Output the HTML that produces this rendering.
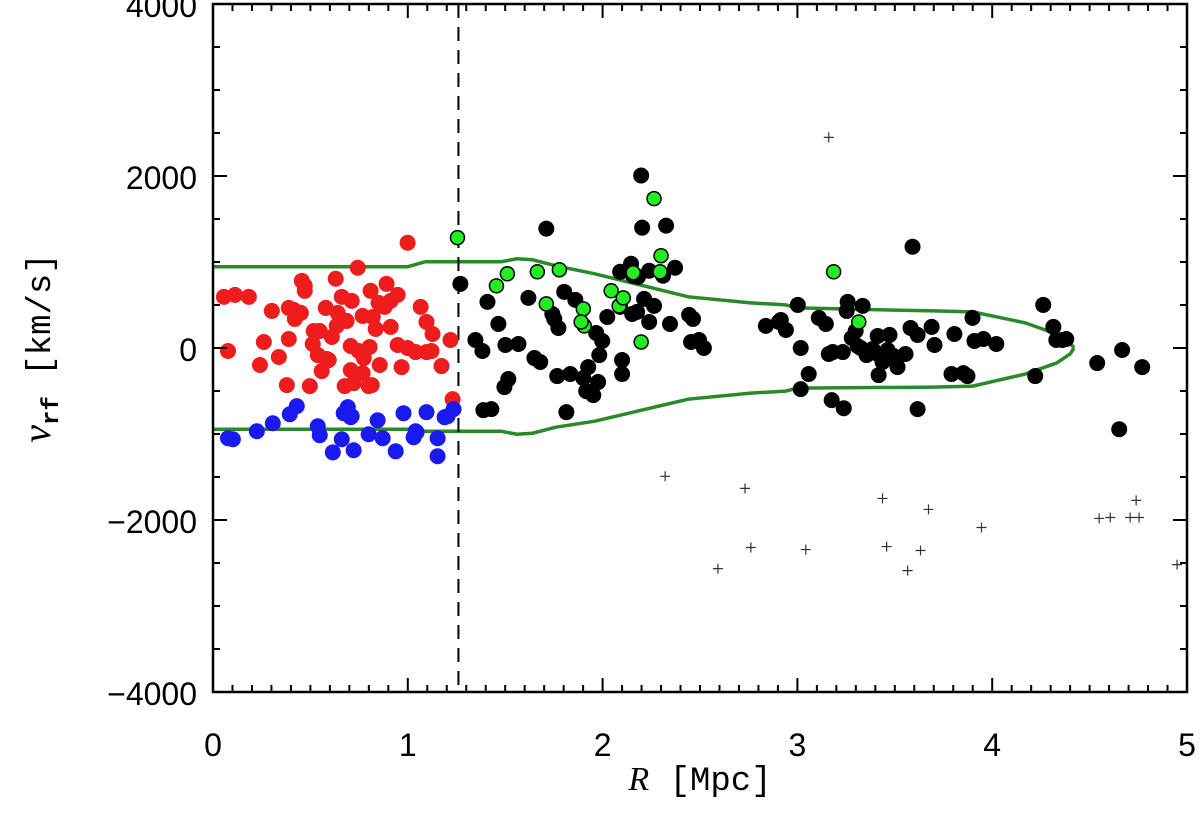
<!DOCTYPE html>
<html><head><meta charset="utf-8"><style>
html,body{margin:0;padding:0;background:#fff;}
svg{display:block;font-family:"Liberation Sans",sans-serif;}
</style></head><body>
<svg id="chart" width="1200" height="814" viewBox="0 0 1200 814"></svg>
<script>
const xTicks=[0,1,2,3,4,5];
const yTicks=[-4000,-2000,0,2000,4000];
const redR=[.056,.113,.184,.077,.302,.261,.338,.241,.389,.420,.389,.379,.415,.456,.471,.471,.512,.548,.579,.538,.558,.594,.610,.640,.635,.630,.661,.686,.707,.707,.722,.748,.768,.774,.820,.799,.835,.856,.809,.881,.891,.912,.948,.912,.948,.999,.999,.968,1.066,1.040,1.096,1.096,1.127,1.122,1.173,1.219,1.230,.743,.768,.676,.584,.517,.497,.451,.804,.815,.850,.712];
const redV=[595,618,595,-35,431,70,-105,-198,466,338,105,-431,443,781,723,665,47,198,466,-82,-268,-140,128,408,257,805,595,315,23,-257,-408,-35,-292,-117,361,-443,222,-198,665,478,746,245,35,548,618,1224,0,-222,478,-47,-47,303,163,-35,-210,93,-595,933,373,-443,-128,198,-443,408,12,-431,525,548];
const blueR=[.102,.077,.225,.307,.394,.430,.538,.548,.661,.671,.692,.707,.712,.799,.845,.871,.938,.978,1.030,1.040,1.045,1.096,1.153,1.153,1.189,1.204,1.235,.615,.722];
const blueV=[-1061,-1049,-968,-875,-770,-676,-910,-1014,-1061,-758,-688,-805,-793,-1003,-840,-1049,-1201,-758,-1038,-968,-980,-746,-1049,-1259,-805,-793,-711,-1213,-1189];
const blackR=[1.270,1.347,1.383,1.388,1.429,1.409,1.465,1.496,1.516,1.501,1.568,1.619,1.650,1.711,1.680,1.742,1.752,1.773,1.803,1.767,1.814,1.834,1.860,1.901,1.926,1.916,1.952,1.967,1.977,1.983,1.998,2.024,2.090,2.090,2.100,2.100,2.146,2.157,2.182,2.198,2.203,2.152,2.177,2.213,2.239,2.239,2.264,2.310,2.326,2.346,2.372,2.454,2.444,2.464,2.495,2.520,2.838,2.905,2.915,2.941,3.002,3.017,3.058,3.110,3.146,3.161,3.181,3.233,3.253,3.279,3.299,3.309,3.325,3.238,3.258,3.335,3.355,3.386,3.412,3.417,3.463,3.473,3.494,3.514,3.555,3.581,3.617,3.617,3.689,3.704,3.791,3.806,3.852,3.873,3.899,3.909,3.955,4.021,4.262,4.314,4.221,4.329,4.360,4.380,4.539,4.667,4.652,4.770,3.591,3.017,3.176,3.412,3.437];
const blackV=[746,93,-35,-723,-711,536,280,-455,-361,35,47,583,-117,1388,-163,396,338,233,653,-326,-746,-303,560,-350,-222,-501,-548,175,-396,-82,82,361,886,478,-140,-303,979,840,828,2006,1399,396,420,571,303,898,490,840,1423,280,933,70,385,338,93,0,257,303,326,210,501,-478,-303,350,280,-70,-47,-47,431,117,198,23,0,-700,536,490,-82,-12,140,-315,-23,152,-93,-222,-70,233,152,-711,245,35,-303,163,-292,-326,350,82,105,47,501,245,-326,93,93,105,-175,-23,-945,-222,1178,0,-606,-70,-163];
const greenR=[1.255,1.455,1.511,1.665,1.711,1.778,1.901,1.906,2.044,2.085,2.198,2.157,2.264,2.300,2.295,3.186,3.315,2.106,1.890];
const greenV=[1283,723,863,886,513,910,455,257,665,490,70,875,1737,1073,886,886,303,583,303];
const plusR=[3.161,2.321,2.731,3.437,3.673,3.945,4.754,4.739,4.708,4.606,4.549,2.761,3.043,3.458,3.632,2.592,3.566,4.949];
const plusV=[2449,-1492,-1632,-1749,-1877,-2087,-1971,-1772,-1971,-1971,-1982,-2320,-2344,-2309,-2355,-2565,-2589,-2519];
const envR=[0,1.0,1.09,1.48,1.56,1.64,1.76,1.96,2.44,2.76,2.94,3.0,3.70,3.90,4.17,4.33,4.40,4.42];
const envUpper=[945,945,1003,1003,1038,1026,956,863,595,525,501,466,431,420,292,163,58,0];
const envLower=[-945,-945,-968,-968,-1003,-991,-921,-851,-595,-525,-501,-466,-455,-443,-303,-175,-70,0];
const cutR=1.26;

const L=213,R=1187,T=4,B=692;
const xs=r=>L+(r-0)/5*(R-L);
const ys=v=>B-(v+4000)/8000*(B-T);
const NS="http://www.w3.org/2000/svg";
const svg=document.getElementById('chart');
function mk(tag,attrs,parent){const e=document.createElementNS(NS,tag);for(const k in attrs)e.setAttribute(k,attrs[k]);(parent||svg).appendChild(e);return e;}

const envG=mk('g',{});


const up=envR.map((r,i)=>xs(r)+','+ys(envUpper[i])).join(' ');
const lo=envR.map((r,i)=>xs(r)+','+ys(envLower[i])).join(' ');
const pu=mk('polyline',{points:up,fill:'none',stroke:'#2a8a2a','stroke-width':3.5},envG);


const pl=mk('polyline',{points:lo,fill:'none',stroke:'#2a8a2a','stroke-width':3.5},envG);



const dl=mk('line',{x1:xs(cutR),x2:xs(cutR),y1:T,y2:B,stroke:'#000','stroke-width':2,'stroke-dasharray':'14,9'});



function dots(Rs,Vs,fill,stroke,name){
  const g=mk('g',{});
  
  
  Rs.forEach((r,i)=>{
    const c=mk('circle',{cx:xs(r),cy:ys(Vs[i]),r:stroke?7:8,fill:fill,stroke:stroke||'none','stroke-width':stroke?1.5:0},g);
    
    
  });
}
dots(redR,redV,'#ee1c1c',null,'red');
dots(blueR,blueV,'#1a1aee',null,'blue');
dots(blackR,blackV,'#000',null,'black');
dots(greenR,greenV,'#22ee22','#000','green');

const pg=mk('g',{stroke:'#333','stroke-width':1.2});


plusR.forEach((r,i)=>{
  const x=xs(r),y=ys(plusV[i]);
  const p=mk('path',{d:`M${x-5},${y}H${x+5}M${x},${y-5}V${y+5}`},pg);
  
  
});

const fr=mk('rect',{x:L,y:T,width:R-L,height:B-T,fill:'none',stroke:'#000','stroke-width':2.5});


const tg=mk('g',{stroke:'#000','stroke-width':2});


for(let i=0;i<=50;i++){const r=i/10,x=xs(r),len=i%10===0?14:7;
  mk('line',{x1:x,x2:x,y1:B,y2:B-len},tg);mk('line',{x1:x,x2:x,y1:T,y2:T+len},tg);}
for(let v=-4000;v<=4000;v+=500){const y=ys(v),len=v%2000===0?14:7;
  mk('line',{x1:L,x2:L+len,y1:y,y2:y},tg);mk('line',{x1:R,x2:R-len,y1:y,y2:y},tg);}
xTicks.forEach(t=>{const e=mk('text',{x:xs(t),y:B+64,'text-anchor':'middle','font-size':32});e.textContent=t;
  
  });
yTicks.forEach(t=>{const e=mk('text',{x:L-16,y:ys(t)+13,'text-anchor':'end','font-size':32});e.textContent=(t<0?'\u2212'+(-t):t);
  
  });
const xt=mk('text',{x:700,y:790,'text-anchor':'middle','font-size':34,'font-family':'Liberation Mono, monospace'});
xt.innerHTML='<tspan font-style="italic" font-family="Liberation Serif, serif">R</tspan> [Mpc]';


const yt=mk('text',{transform:'translate(50,348) rotate(-90)','text-anchor':'middle','font-size':34,'font-family':'Liberation Mono, monospace'});
yt.innerHTML='<tspan font-style="italic" font-family="Liberation Serif, serif" font-size="40">v</tspan><tspan font-size="24" dy="8" font-weight="bold">rf</tspan><tspan dy="-8"> [km/s]</tspan>';


</script>
</body></html>
